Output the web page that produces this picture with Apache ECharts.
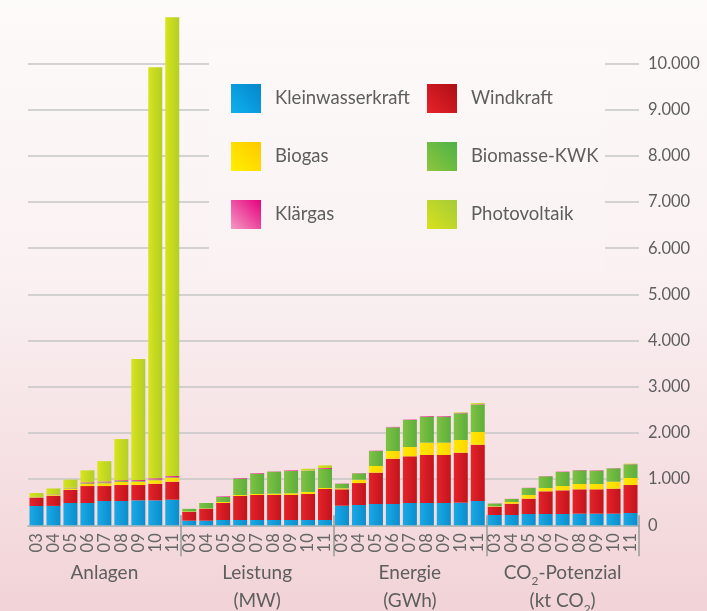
<!DOCTYPE html>
<html>
<head>
<meta charset="utf-8">
<script src="https://cdn.jsdelivr.net/npm/echarts@6/dist/echarts.min.js"></script>
<style>
  html, body { margin: 0; padding: 0; }
  #chart { width: 707px; height: 611px; }
</style>
</head>
<body>
<div id="chart"></div>
<script>
// Jahre je Gruppe
var years = ['03', '04', '05', '06', '07', '08', '09', '10', '11'];
var groups = ['Anlagen', 'Leistung', 'Energie', 'CO2'];
var groupLabels = ['Anlagen', 'Leistung\n(MW)', 'Energie\n(GWh)', 'CO{sub|2}-Potenzial\n(kt CO{sub|2})'];

// Werte: je 9 Jahre für Anlagen, Leistung, Energie, CO2
var kleinwasserkraft = [
  418, 420, 483, 483, 526, 526, 540, 540, 554,
  100, 100, 115, 115, 115, 115, 115, 115, 115,
  424, 440, 461, 461, 483, 483, 483, 490, 526,
  223, 223, 245, 245, 245, 252, 252, 252, 266
];
var windkraft = [
  179, 220, 282, 367, 324, 346, 332, 360, 390,
  188, 260, 368, 519, 541, 541, 541, 563, 671,
  355, 475, 679, 981, 1011, 1039, 1039, 1082, 1219,
  180, 245, 332, 491, 512, 527, 527, 541, 606
];
var biogas = [
  8, 15, 30, 45, 59, 65, 70, 75, 80,
  10, 7, 22, 22, 22, 29, 37, 44, 22,
  21, 72, 144, 166, 201, 267, 267, 275, 275,
  10, 37, 79, 71, 93, 115, 115, 151, 152
];
var biomasse = [
  5, 8, 10, 15, 20, 20, 15, 15, 15,
  58, 116, 108, 354, 440, 476, 482, 460, 411,
  100, 138, 324, 513, 585, 562, 562, 577, 591,
  58, 65, 151, 253, 304, 296, 289, 289, 296
];
var klaergas = [
  5, 5, 8, 20, 20, 20, 25, 30, 30,
  0, 0, 14, 14, 14, 5, 15, 5, 21,
  5, 5, 8, 10, 10, 15, 15, 10, 10,
  3, 3, 5, 5, 8, 8, 8, 5, 5
];
var photovoltaik = [
  85, 130, 175, 260, 440, 890, 2620, 8900, 9950,
  0, 0, 0, 0, 0, 0, 0, 37, 58,
  0, 0, 0, 0, 0, 0, 0, 12, 25,
  0, 0, 0, 0, 0, 0, 0, 0, 10
];

var font = 'Lato';
var textColor = '#5e5e5e';

// Kategorien eindeutig machen: "Gruppe|Jahr"
var cats = [];
groups.forEach(function (g) {
  years.forEach(function (y) { cats.push(g + '|' + y); });
});

function barGrad(c1, c2) {
  return new echarts.graphic.LinearGradient(0, 0, 1, 0, [
    { offset: 0, color: c1 },
    { offset: 1, color: c2 }
  ]);
}
function iconGrad(c1, c2) {
  // hell unten links, dunkel oben rechts
  return new echarts.graphic.LinearGradient(0, 1, 1, 0, [
    { offset: 0, color: c1 },
    { offset: 1, color: c2 }
  ]);
}

var seriesDefs = [
  { name: 'Kleinwasserkraft', data: kleinwasserkraft, bar: ['#1aa9e6', '#0b8dcd'], icon: ['#0fb0ee', '#0486cc'] },
  { name: 'Windkraft', data: windkraft, bar: ['#e5232a', '#c2141c'], icon: ['#e8222a', '#ae0f16'] },
  { name: 'Biogas', data: biogas, bar: ['#ffe900', '#ffd500'], icon: ['#fff000', '#ffc800'] },
  { name: 'Biomasse-KWK', data: biomasse, bar: ['#7fc243', '#5cae3b'], icon: ['#8fc63c', '#4cb248'] },
  { name: 'Klärgas', data: klaergas, bar: ['#ef69a8', '#e2167f'], icon: ['#f49ac3', '#e6007e'] },
  { name: 'Photovoltaik', data: photovoltaik, bar: ['#d8e41b', '#b2ce27'], icon: ['#d8e21b', '#a4cb38'] }
];

var iconMap = {};
seriesDefs.forEach(function (s) { iconMap[s.name] = iconGrad(s.icon[0], s.icon[1]); });

function legendData(names) {
  return names.map(function (n) { return { name: n, itemStyle: { color: iconMap[n] } }; });
}

var legendBase = {
  orient: 'vertical',
  top: 84,
  padding: 0,
  itemWidth: 30,
  itemHeight: 29,
  itemGap: 29,
  selectedMode: false,
  icon: 'rect',
  textStyle: { fontFamily: font, fontSize: 18.5, color: textColor, padding: [0, 0, 0, 9] }
};

var option = {
  backgroundColor: new echarts.graphic.LinearGradient(0, 0, 0, 1, [
    { offset: 0, color: '#fdfafa' },
    { offset: 0.45, color: '#faf1f2' },
    { offset: 1, color: '#f2d3d7' }
  ]),
  animation: false,
  grid: { left: 28, right: 68, top: 17.3, bottom: 85.7, outerBoundsMode: 'none' },
  graphic: [
    {
      type: 'rect',
      z: 1,
      shape: { x: 209, y: 50, width: 396, height: 222 },
      style: {
        fill: new echarts.graphic.LinearGradient(0, 0, 0, 1, [
          { offset: 0, color: '#fcf9f9' },
          { offset: 1, color: '#faf2f3' }
        ])
      }
    }
  ],
  legend: [
    Object.assign({}, legendBase, { left: 231, data: legendData(['Kleinwasserkraft', 'Biogas', 'Klärgas']) }),
    Object.assign({}, legendBase, { left: 427, data: legendData(['Windkraft', 'Biomasse-KWK', 'Photovoltaik']) })
  ],
  xAxis: [
    {
      type: 'category',
      data: cats,
      axisLine: { lineStyle: { color: '#b9b9b9', width: 2 } },
      axisTick: { show: false },
      axisLabel: {
        interval: 0,
        rotate: 90,
        margin: 8,
        fontFamily: font,
        fontSize: 16.5,
        color: '#666',
        formatter: function (v) { return v.split('|')[1]; }
      }
    },
    {
      // Trennlinien zwischen den Gruppen
      type: 'category',
      data: cats,
      position: 'bottom',
      offset: -10,
      axisLine: { show: false },
      axisLabel: { show: false },
      axisTick: {
        show: true,
        length: 41,
        interval: function (i) { return i === 9 || i === 18 || i === 27; },
        lineStyle: { color: '#9a9a9a', width: 1.5 }
      }
    },
    {
      type: 'category',
      data: groupLabels,
      position: 'bottom',
      offset: 30,
      axisLine: { show: false },
      axisTick: { show: false },
      axisLabel: {
        interval: 0,
        margin: 4,
        fontFamily: font,
        fontSize: 19,
        lineHeight: 28,
        color: '#5e5e5e',
        rich: {
          sub: { fontFamily: font, fontSize: 12, color: '#5e5e5e', verticalAlign: 'bottom' }
        }
      }
    }
  ],
  yAxis: {
    type: 'value',
    position: 'right',
    min: 0,
    max: 11000,
    interval: 1000,
    axisLine: { show: false },
    axisTick: { show: false },
    axisLabel: {
      margin: 9,
      showMaxLabel: false,
      fontFamily: font,
      fontSize: 16.5,
      color: textColor,
      formatter: function (v) { return String(v).replace(/\B(?=(\d{3})+(?!\d))/g, '.'); }
    },
    splitLine: { showMaxLine: false, lineStyle: { color: '#c6c6c6', width: 1.5 } }
  },
  series: seriesDefs.map(function (s) {
    return {
      name: s.name,
      type: 'bar',
      stack: 'total',
      barWidth: 14,
      data: s.data,
      itemStyle: { color: barGrad(s.bar[0], s.bar[1]) }
    };
  })
};

var myChart = echarts.init(document.getElementById('chart'));
myChart.setOption(option);
</script>
</body>
</html>
